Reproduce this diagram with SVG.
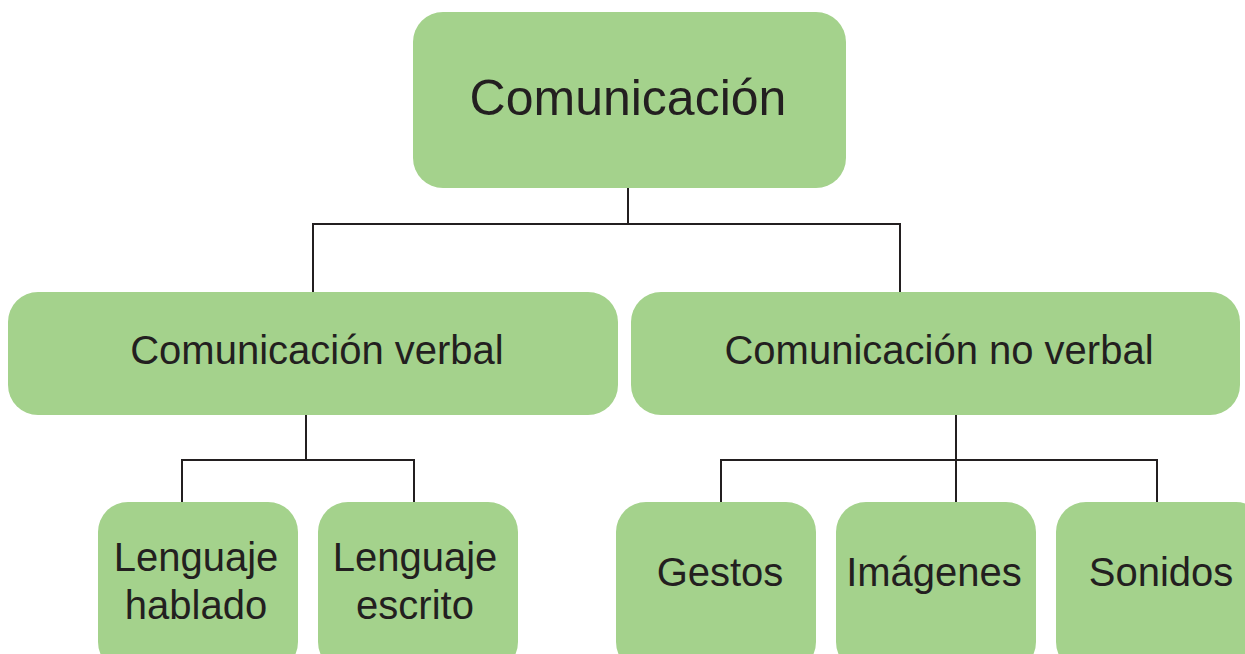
<svg xmlns="http://www.w3.org/2000/svg" width="1245" height="654" viewBox="0 0 1245 654">
<style>
.box{fill:#a4d28c}
.t{font-family:"Liberation Sans",Arial,sans-serif;fill:#231f20;text-anchor:middle;font-size:40px}
.c{fill:none;stroke:#231f20;stroke-width:2}
</style>
<rect width="1245" height="654" fill="#ffffff"/>
<g id="connectors">
<path class="c" d="M628 188V224M313 292V224H900V292"/>
<path class="c" d="M306 415V460M182 502V460H414V502"/>
<path class="c" d="M956 415V502M721 502V460H1157V502"/>
</g>
<g id="comunicacion">
<rect class="box" x="413" y="12" width="433" height="176" rx="30"/>
<text class="t" x="628" y="115" style="font-size:50px">Comunicación</text>
</g>
<g id="verbal">
<rect class="box" x="8" y="292" width="610" height="123" rx="30"/>
<text class="t" x="317" y="364">Comunicación verbal</text>
</g>
<g id="noverbal">
<rect class="box" x="631" y="292" width="609" height="123" rx="30"/>
<text class="t" x="939" y="364">Comunicación no verbal</text>
</g>
<g id="hablado">
<rect class="box" x="98" y="502" width="200" height="170" rx="30"/>
<text class="t" x="196" y="571">Lenguaje</text>
<text class="t" x="196" y="619">hablado</text>
</g>
<g id="escrito">
<rect class="box" x="318" y="502" width="200" height="170" rx="30"/>
<text class="t" x="415" y="571">Lenguaje</text>
<text class="t" x="415" y="619">escrito</text>
</g>
<g id="gestos">
<rect class="box" x="616" y="502" width="200" height="170" rx="30"/>
<text class="t" x="720" y="586">Gestos</text>
</g>
<g id="imagenes">
<rect class="box" x="836" y="502" width="200" height="170" rx="30"/>
<text class="t" x="934" y="586">Imágenes</text>
</g>
<g id="sonidos">
<rect class="box" x="1056" y="502" width="210" height="170" rx="30"/>
<text class="t" x="1161" y="586">Sonidos</text>
</g>
</svg>
